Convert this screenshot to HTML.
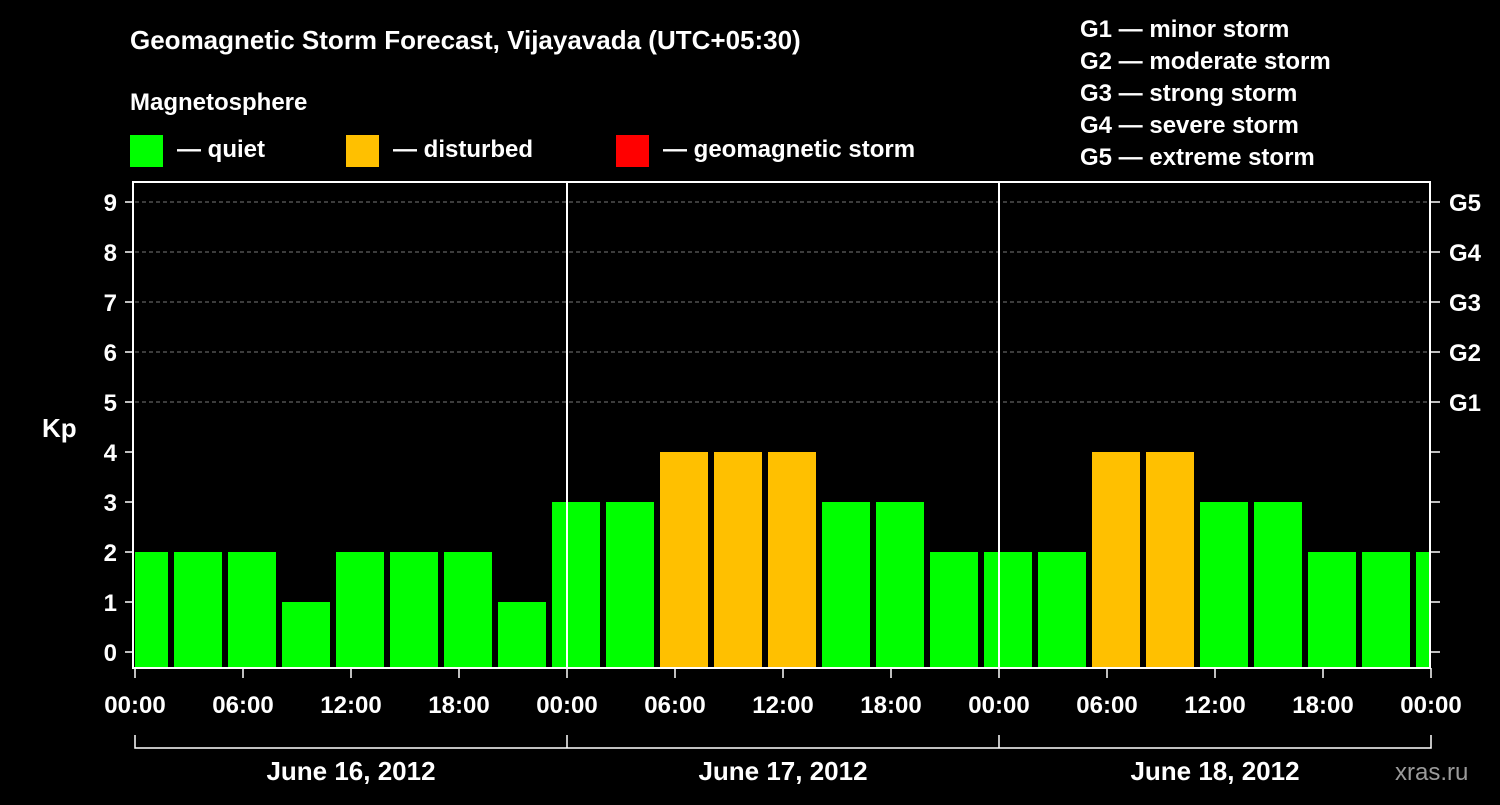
<!DOCTYPE html>
<html><head><meta charset="utf-8"><style>
body{margin:0;background:#000;width:1500px;height:800px;overflow:hidden}
svg text{font-family:"Liberation Sans",Arial,sans-serif;font-weight:bold;fill:#fff}
</style></head><body>
<svg id="c" width="1500" height="800">
<text x="130" y="49" font-size="26">Geomagnetic Storm Forecast, Vijayavada (UTC+05:30)</text>
<text x="130" y="110" font-size="24">Magnetosphere</text>
<rect x="130" y="135" width="33" height="32" fill="#00ff00"/>
<text x="177" y="157" font-size="24">— quiet</text>
<rect x="346" y="135" width="33" height="32" fill="#ffc000"/>
<text x="393" y="157" font-size="24">— disturbed</text>
<rect x="616" y="135" width="33" height="32" fill="#ff0000"/>
<text x="663" y="157" font-size="24">— geomagnetic storm</text>
<g font-size="24">
<text x="1080" y="37">G1 — minor storm</text>
<text x="1080" y="69">G2 — moderate storm</text>
<text x="1080" y="101">G3 — strong storm</text>
<text x="1080" y="133">G4 — severe storm</text>
<text x="1080" y="165">G5 — extreme storm</text>
</g>
<text x="42" y="437" font-size="26">Kp</text>
<text x="1395" y="780" font-size="24" fill="#888" style="fill:#9a9a9a;font-weight:normal">xras.ru</text>
<g id="plot"></g>
</svg>
<script>
const startHours=[-1,2,5,8,11,14,17,20,23,26,29,32,35,38,41,44,47,50,53,56,59,62,65,68,71];
const kpValues=[2,2,2,1,2,2,2,1,3,3,4,4,4,3,3,2,2,2,4,4,3,3,2,2,2];
const xTickLabels=["00:00","06:00","12:00","18:00"];
const dayLabels=["June 16, 2012","June 17, 2012","June 18, 2012"];
const gLabels=["G1","G2","G3","G4","G5"];
const L=135,R=1431,T=182,B=668;
const x=h=>Math.max(L,Math.min(R-1,L+h*18));
const y=v=>652-v*50;
const NS="http://www.w3.org/2000/svg";
const g=document.getElementById('plot');
function mk(t,a){const e=document.createElementNS(NS,t);for(const k in a)e.setAttribute(k,a[k]);g.appendChild(e);return e;}
for(let v=5;v<=9;v++){const e=mk('line',{x1:L,x2:R,y1:y(v),y2:y(v),stroke:'#777','stroke-dasharray':'4,3','stroke-width':1});

}
startHours.forEach((h,i)=>{const v=kpValues[i];const x0=x(h*1+0.1667),x1=x(h+3-0.1667);
const c=v>=5?'#ff0000':v>=4?'#ffc000':'#00ff00';
const r=mk('rect',{x:x0,y:y(v),width:Math.max(0,x1-x0),height:B-y(v),fill:c});

});
for(let d=1;d<3;d++){const e=mk('line',{x1:L+d*432,x2:L+d*432,y1:T,y2:B,stroke:'#fff','stroke-width':2});

}
const fr=mk('rect',{x:L-2,y:T,width:R-L+1,height:B-T,fill:'none',stroke:'#fff','stroke-width':2});


for(let v=0;v<=9;v++){
mk('line',{x1:L-10,x2:L-2,y1:y(v),y2:y(v),stroke:'#fff','stroke-width':1.5});
mk('line',{x1:R,x2:R+9,y1:y(v),y2:y(v),stroke:'#fff','stroke-width':1.5});
const t=mk('text',{x:L-18,y:y(v)+9,'font-size':24,'text-anchor':'end'});t.textContent=v;


if(v>=5){const gt=mk('text',{x:R+18,y:y(v)+9,'font-size':24});gt.textContent=gLabels[v-5];

}}
for(let d=0;d<3;d++){for(let k=0;k<=4;k++){if(k==4&&d<2)continue;const xx=L+d*432+k*108;
mk('line',{x1:xx,x2:xx,y1:B,y2:B+10,stroke:'#fff','stroke-width':1.5});
const t=mk('text',{x:xx,y:B+45,'font-size':24,'text-anchor':'middle'});t.textContent=xTickLabels[k%4];

}
const dl=mk('text',{x:L+d*432+216,y:780,'font-size':26,'text-anchor':'middle'});dl.textContent=dayLabels[d];

}
mk('path',{d:`M${L},735V748H${R}V735`,fill:'none',stroke:'#fff','stroke-width':1.5});
for(let d=1;d<3;d++)mk('line',{x1:L+d*432,x2:L+d*432,y1:735,y2:748,stroke:'#fff','stroke-width':1.5});
</script>
</body></html>
